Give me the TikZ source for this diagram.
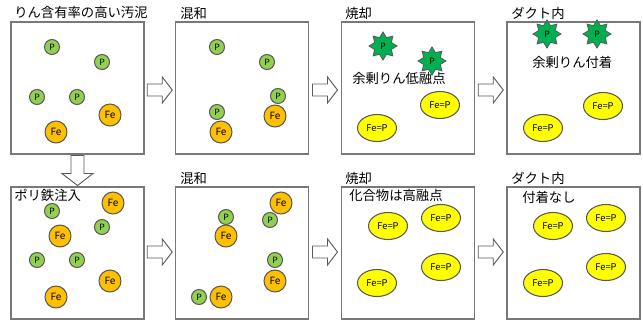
\documentclass[tikz,border=0pt]{standalone}
\usepackage{fontspec}
\setmainfont{Noto Sans CJK JP}
\usetikzlibrary{shapes.geometric,calc}
\definecolor{pgreen}{RGB}{146,208,80}
\definecolor{feorange}{RGB}{255,192,0}
\definecolor{stargreen}{RGB}{0,176,80}
\definecolor{fepyellow}{RGB}{255,255,0}
\definecolor{ringgray}{RGB}{90,90,90}
\definecolor{boxgray}{RGB}{120,120,120}
\tikzset{
  panel/.style={draw=boxgray, line width=1pt, minimum width=99.75pt, minimum height=99pt, inner sep=0pt},
  pball/.style={circle, draw=ringgray, fill=pgreen, line width=0.8pt, minimum size=11.25pt, inner sep=0pt, font=\fontsize{6.5}{7}\selectfont},
  feball/.style={circle, draw=ringgray, fill=feorange, line width=0.8pt, minimum size=16.5pt, inner sep=0pt, font=\fontsize{7.5}{8}\selectfont},
  pstar/.style={star, star points=8, star point ratio=1.55, draw=ringgray, fill=stargreen, line width=0.6pt, minimum size=21pt, inner sep=0pt, font=\fontsize{6.5}{7}\selectfont},
  fep/.style={ellipse, draw=ringgray, fill=fepyellow, line width=0.8pt, minimum width=29.25pt, minimum height=20.25pt, inner sep=0pt, font=\fontsize{7}{8}\selectfont},
  caption/.style={anchor=west, inner sep=0pt, font=\fontsize{10}{12}\selectfont},
  arrowline/.style={draw=ringgray, fill=white, line width=0.7pt, line join=miter},
  pics/rarrow/.style={code={
    \path[arrowline] (-12.5,-6) -- (2.5,-6) -- (2.5,-13) -- (12.5,0) -- (2.5,13) -- (2.5,6) -- (-12.5,6) -- cycle;}},
  pics/darrow/.style={code={
    \path[arrowline] (-6.5,15) -- (-6.5,-3) -- (-15.5,-3) -- (0,-15) -- (15.5,-3) -- (6.5,-3) -- (6.5,15) -- cycle;}}
}
\begin{document}
\begin{tikzpicture}[x=0.75pt,y=0.75pt,yscale=-1,xscale=1]
  \useasboundingbox (0,0) rectangle (643,322);
  %Shape: Boxes
  \node[panel] (b1) at (77.5,88) {};
  \node[panel] (b2) at (242,88) {};
  \node[panel] (b3) at (408,88) {};
  \node[panel] (b4) at (573.5,88) {};
  \node[panel] (b5) at (77.5,253) {};
  \node[panel] (b6) at (242,253) {};
  \node[panel] (b7) at (408,253) {};
  \node[panel] (b8) at (573.5,253) {};

  %Block Arrows
  \pic at ($(b1.east)!0.5!(b2.west)+(0,2)$) {rarrow};
  \pic at ($(b2.east)!0.5!(b3.west)+(0,2)$) {rarrow};
  \pic at ($(b3.east)!0.5!(b4.west)+(0,2)$) {rarrow};
  \pic at ($(b1.south)!0.5!(b5.north)$) {darrow};
  \pic at ($(b5.east)!0.5!(b6.west)+(0,-1)$) {rarrow};
  \pic at ($(b6.east)!0.5!(b7.west)+(0,-1)$) {rarrow};
  \pic at ($(b7.east)!0.5!(b8.west)+(0,-1)$) {rarrow};

  % Text Node
  \node[caption] (t1) at (14,12) {りん含有率の高い汚泥};
  \node[caption] (t2) at (180,13) {混和};
  \node[caption] (t3) at (345,13) {焼却};
  \node[caption] (t4) at (511,13) {ダクト内};
  \node[caption] (t5) at (14,195) {ポリ鉄注入};
  \node[caption] (t6) at (180,178) {混和};
  \node[caption] (t7) at (345,178) {焼却};
  \node[caption] (t8) at (511,178) {ダクト内};
  \node[caption] (t9) at (352,78) {余剰りん低融点};
  \node[caption] (t10) at (532,62) {余剰りん付着};
  \node[caption] (t11) at (349,195) {化合物は高融点};
  \node[caption] (t12) at (522,197) {付着なし};

  %Box 1
  \node[pball] (p11) at (52,47) {P};
  \node[pball] (p12) at (102,62) {P};
  \node[pball] (p13) at (37,97) {P};
  \node[pball] (p14) at (77,97) {P};
  \node[feball] (f11) at (110,115) {Fe};
  \node[feball] (f12) at (56,132) {Fe};
  %Box 2
  \node[pball] (p21) at (217,47) {P};
  \node[pball] (p22) at (267,62) {P};
  \node[pball] (p23) at (278,96) {P};
  \node[feball] (f21) at (275,116) {Fe};
  \node[pball] (p24) at (217,112) {P};
  \node[feball] (f22) at (221,132) {Fe};
  %Box 3
  \node[pstar] (s31) at (383,46) {P};
  \node[pstar] (s32) at (432,61) {P};
  \node[fep] (e31) at (440,105) {Fe=P};
  \node[fep] (e32) at (377,128) {Fe=P};
  %Box 4
  \node[pstar] (s41) at (547,34) {P};
  \node[pstar] (s42) at (597,34) {P};
  \node[fep] (e41) at (603,106) {Fe=P};
  \node[fep] (e42) at (543,128) {Fe=P};
  %Box 5
  \node[feball] (f51) at (113,203) {Fe};
  \node[pball] (p51) at (52,211) {P};
  \node[pball] (p52) at (102,227) {P};
  \node[feball] (f52) at (60,236) {Fe};
  \node[pball] (p53) at (37,260) {P};
  \node[pball] (p54) at (77,260) {P};
  \node[feball] (f53) at (110,281) {Fe};
  \node[feball] (f54) at (56,297) {Fe};
  %Box 6
  \node[pball] (p61) at (270,220) {P};
  \node[feball] (f61) at (281,203) {Fe};
  \node[pball] (p62) at (226,217) {P};
  \node[feball] (f62) at (226,236) {Fe};
  \node[pball] (p63) at (275,260) {P};
  \node[feball] (f63) at (275,281) {Fe};
  \node[pball] (p64) at (199,297) {P};
  \node[feball] (f64) at (221,297) {Fe};
  %Box 7
  \node[fep] (e71) at (388,226) {Fe=P};
  \node[fep] (e72) at (441,218) {Fe=P};
  \node[fep] (e73) at (441,267) {Fe=P};
  \node[fep] (e74) at (377,283) {Fe=P};
  %Box 8
  \node[fep] (e81) at (553,226) {Fe=P};
  \node[fep] (e82) at (606,218) {Fe=P};
  \node[fep] (e83) at (606,267) {Fe=P};
  \node[fep] (e84) at (543,283) {Fe=P};
\end{tikzpicture}
\end{document}
